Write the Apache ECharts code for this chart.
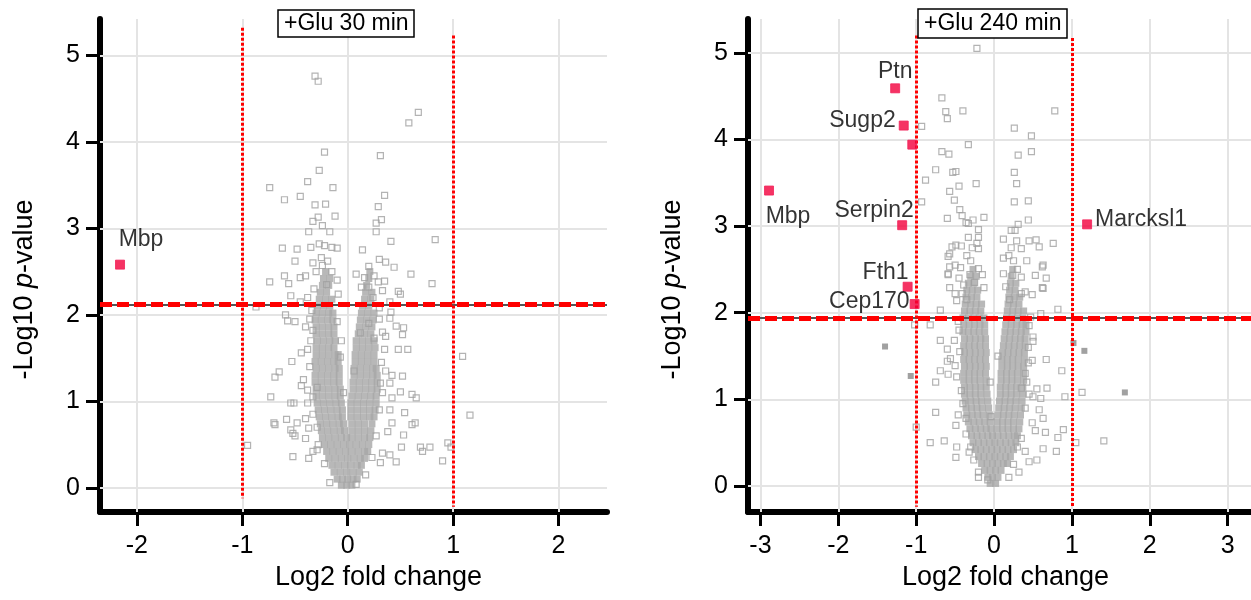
<!DOCTYPE html>
<html>
<head>
<meta charset="utf-8">
<script src="https://cdn.jsdelivr.net/npm/echarts@6/dist/echarts.min.js"></script>
<style>html,body{margin:0;background:#fff}#chart{width:1251px;height:600px}</style>
</head>
<body>
<div id="chart"></div>
<script>
var chart = echarts.init(document.getElementById('chart'));
var FONT = '"Liberation Sans", Arial, sans-serif';

// tick labels
var ticksX30 = [-2, -1, 0, 1, 2];
var ticksX240 = [-3, -2, -1, 0, 1, 2, 3];
var ticksY = [0, 1, 2, 3, 4, 5];

// thresholds
var pThr30 = 2.12;
var pThr240 = 1.94;
var fcThr = 1;

// +Glu 30 min: scattered proteins (hollow squares)
var glu30Open = [
  [-0.31,4.76],[-0.28,4.70],[0.67,4.34],[0.58,4.22],[-0.22,3.88],[0.31,3.84],[-0.27,3.67],[-0.38,3.54],
  [-0.14,3.47],[-0.74,3.47],[0.35,3.38],[-0.45,3.37],[-0.60,3.33],[-0.31,3.27],[-0.21,3.28],[0.29,3.25],
  [-0.12,3.14],[-0.28,3.13],[0.32,3.10],[-0.33,3.08],[0.27,3.06],[-0.24,3.03],[-0.37,2.96],[-0.17,2.96],
  [0.27,2.96],[0.41,2.85],[0.83,2.87],[-0.62,2.77],[-0.48,2.76],[-0.35,2.78],[-0.27,2.82],[-0.22,2.80],
  [-0.15,2.78],[-0.10,2.77],[0.14,2.75],[-0.50,2.62],[-0.33,2.60],[-0.25,2.66],[-0.19,2.62],[-0.24,2.57],
  [0.30,2.64],[0.36,2.61],[0.20,2.56],[0.44,2.55],[0.60,2.47],[-0.60,2.45],[-0.56,2.36],[-0.74,2.38],
  [-0.45,2.43],[-0.40,2.45],[0.08,2.47],[0.16,2.43],[0.29,2.38],[0.35,2.39],[0.80,2.36],[0.13,2.32],
  [0.20,2.32],[-0.54,2.22],[-0.09,2.24],[0.48,2.27],[0.50,2.24],[-0.87,2.09],[-0.32,2.30],[-0.20,2.35],
  [-0.15,2.50],[-0.30,2.50],[0.25,2.45],[0.33,2.28],[0.24,2.20],[-0.38,2.20],[-0.10,2.40],[0.40,2.15],
  [-0.45,2.15],
  [-0.59,2.00],[-0.57,1.93],[-0.50,1.92],[-0.40,1.86],[-0.33,1.82],[-0.10,1.92],[0.41,2.03],[0.40,1.96],
  [0.46,1.87],[0.53,1.85],[0.52,1.77],[0.33,1.80],[0.36,1.75],[0.25,1.73],[0.12,1.79],[0.48,1.60],
  [0.57,1.60],[0.35,1.60],[1.09,1.52],[-0.07,1.51],[-0.53,1.46],[-0.44,1.56],[-0.65,1.34],[-0.69,1.28],
  [0.52,1.29],[0.42,1.30],[0.31,1.21],[0.40,1.21],[-0.44,1.18],[-0.38,1.13],[-0.29,1.16],[-0.33,1.05],
  [-0.73,1.05],[-0.54,0.98],[-0.51,0.98],[-0.38,0.98],[0.61,1.08],[0.65,1.04],[0.50,1.11],[0.42,1.04],
  [0.40,0.90],[0.54,0.87],[1.16,0.84],[-0.70,0.75],[-0.69,0.73],[-0.58,0.79],[-0.48,0.75],[-0.37,0.69],
  [-0.29,0.70],[-0.52,0.63],[-0.54,0.67],[-0.50,0.60],[-0.40,0.57],[0.61,0.73],[0.64,0.75],[0.42,0.75],
  [0.53,0.61],[0.38,0.65],[-0.95,0.49],[0.69,0.47],[0.78,0.47],[0.71,0.42],[0.51,0.47],[0.95,0.52],
  [0.98,0.47],[0.90,0.31],[-0.52,0.36],[-0.37,0.34],[-0.33,0.42],[-0.29,0.44],[0.33,0.40],[0.40,0.38],
  [0.46,0.30],[0.31,0.29],[-0.17,0.06],[0.08,0.04],[-0.36,1.40],[-0.38,1.60],[-0.35,1.70],[0.32,1.45],
  [0.33,1.10],[0.30,0.90],[-0.33,0.85],[0.27,0.60],[-0.28,0.50],[0.23,0.35],[-0.22,0.28],[0.17,0.15],
  [-0.42,1.25],[0.36,1.35],[-0.40,0.80],[0.30,1.95],[-0.36,1.95],[-0.34,2.05],[0.30,2.08],[0.20,1.90],
  [-0.06,1.70],[0.06,1.35],[-0.04,1.10]
];

// +Glu 30 min: dense core of the volcano
var glu30Dense = [
  [-0.06,0.03],[-0.01,0.03],[0.04,0.03],
  [-0.10,0.10],[-0.05,0.10],[0.00,0.10],[0.05,0.10],[0.09,0.10],
  [-0.13,0.18],[-0.07,0.18],[-0.01,0.18],[0.05,0.18],[0.11,0.18],
  [-0.15,0.26],[-0.09,0.26],[-0.03,0.26],[0.03,0.26],[0.09,0.26],[0.13,0.26],
  [-0.18,0.34],[-0.12,0.34],[-0.06,0.34],[0.00,0.34],[0.06,0.34],[0.12,0.34],[0.16,0.34],
  [-0.20,0.42],[-0.14,0.42],[-0.08,0.42],[-0.02,0.42],[0.04,0.42],[0.10,0.42],[0.16,0.42],[0.19,0.42],
  [-0.22,0.50],[-0.16,0.50],[-0.10,0.50],[-0.04,0.50],[0.02,0.50],[0.08,0.50],[0.14,0.50],[0.20,0.50],
  [-0.24,0.58],[-0.18,0.58],[-0.12,0.58],[-0.06,0.58],[-0.01,0.58],[0.04,0.58],[0.10,0.58],[0.16,0.58],[0.21,0.58],
  [-0.25,0.66],[-0.19,0.66],[-0.13,0.66],[-0.07,0.66],[-0.03,0.66],[0.04,0.66],[0.10,0.66],[0.16,0.66],[0.22,0.66],
  [-0.26,0.74],[-0.20,0.74],[-0.14,0.74],[-0.08,0.74],[-0.04,0.74],[0.04,0.74],[0.10,0.74],[0.16,0.74],[0.23,0.74],
  [-0.27,0.82],[-0.21,0.82],[-0.15,0.82],[-0.09,0.82],[-0.05,0.82],[0.03,0.82],[0.09,0.82],[0.15,0.82],[0.21,0.82],[0.25,0.82],
  [-0.28,0.90],[-0.22,0.90],[-0.16,0.90],[-0.10,0.90],[-0.05,0.90],[0.03,0.90],[0.09,0.90],[0.15,0.90],[0.21,0.90],[0.26,0.90],
  [-0.29,0.98],[-0.23,0.98],[-0.17,0.98],[-0.11,0.98],[-0.06,0.98],[0.03,0.98],[0.09,0.98],[0.15,0.98],[0.21,0.98],[0.27,0.98],
  [-0.30,1.06],[-0.24,1.06],[-0.18,1.06],[-0.12,1.06],[-0.07,1.06],[0.04,1.06],[0.10,1.06],[0.16,1.06],[0.22,1.06],[0.27,1.06],
  [-0.30,1.14],[-0.24,1.14],[-0.18,1.14],[-0.12,1.14],[-0.07,1.14],[0.05,1.14],[0.11,1.14],[0.17,1.14],[0.23,1.14],[0.28,1.14],
  [-0.31,1.22],[-0.25,1.22],[-0.19,1.22],[-0.13,1.22],[-0.08,1.22],[0.05,1.22],[0.11,1.22],[0.17,1.22],[0.23,1.22],[0.28,1.22],
  [-0.31,1.30],[-0.25,1.30],[-0.19,1.30],[-0.13,1.30],[-0.08,1.30],[0.06,1.30],[0.12,1.30],[0.18,1.30],[0.24,1.30],[0.28,1.30],
  [-0.30,1.38],[-0.24,1.38],[-0.18,1.38],[-0.12,1.38],[-0.08,1.38],[0.06,1.38],[0.12,1.38],[0.18,1.38],[0.24,1.38],[0.27,1.38],
  [-0.31,1.46],[-0.25,1.46],[-0.19,1.46],[-0.13,1.46],[-0.09,1.46],[0.07,1.46],[0.13,1.46],[0.19,1.46],[0.25,1.46],
  [-0.30,1.54],[-0.24,1.54],[-0.18,1.54],[-0.12,1.54],[-0.09,1.54],[0.07,1.54],[0.13,1.54],[0.19,1.54],[0.25,1.54],
  [-0.30,1.62],[-0.24,1.62],[-0.18,1.62],[-0.13,1.62],[0.08,1.62],[0.14,1.62],[0.20,1.62],[0.26,1.62],
  [-0.29,1.70],[-0.23,1.70],[-0.17,1.70],[-0.12,1.70],[0.08,1.70],[0.14,1.70],[0.20,1.70],[0.25,1.70],
  [-0.30,1.78],[-0.24,1.78],[-0.18,1.78],[-0.13,1.78],[0.10,1.78],[0.16,1.78],[0.22,1.78],
  [-0.30,1.86],[-0.24,1.86],[-0.18,1.86],[-0.13,1.86],[0.11,1.86],[0.17,1.86],[0.23,1.86],
  [-0.31,1.94],[-0.25,1.94],[-0.19,1.94],[-0.14,1.94],[0.12,1.94],[0.18,1.94],[0.24,1.94],
  [-0.30,2.02],[-0.24,2.02],[-0.18,2.02],[-0.14,2.02],[0.13,2.02],[0.19,2.02],[0.25,2.02],
  [-0.29,2.10],[-0.23,2.10],[-0.17,2.10],[0.14,2.10],[0.20,2.10],
  [-0.27,2.18],[-0.21,2.18],[-0.15,2.18],[0.16,2.18],[0.22,2.18],
  [-0.26,2.26],[-0.20,2.26],[0.17,2.26],[0.23,2.26],
  [-0.24,2.34],[-0.18,2.34],[0.18,2.34],
  [-0.23,2.42],[-0.17,2.42],[0.20,2.42],
  [-0.21,2.50],[0.21,2.50]
];

// +Glu 240 min: scattered proteins (hollow squares)
var glu240Open = [
  [-0.22,5.05],[-0.67,4.48],[-0.62,4.32],[-0.60,4.24],[-0.40,4.33],[0.78,4.33],[-0.93,4.15],[0.26,4.13],
  [0.48,4.04],[-0.33,3.94],[-0.67,3.86],[-0.58,3.83],[0.31,3.82],[0.48,3.86],[-0.75,3.65],[-0.53,3.62],
  [-0.49,3.63],[0.26,3.62],[-0.88,3.53],[-0.23,3.49],[-0.45,3.46],[-0.57,3.40],[0.29,3.49],[-0.93,3.28],
  [-0.51,3.30],[0.26,3.28],[0.44,3.29],[-0.44,3.19],[-0.41,3.12],[-0.36,3.04],[-0.60,3.09],[-0.13,3.10],
  [-0.27,3.07],[-0.20,2.96],[-0.33,3.03],[0.44,3.07],[0.31,3.02],[0.22,2.95],[0.27,2.95],[-0.33,2.87],
  [-0.20,2.87],[-0.49,2.78],[-0.54,2.76],[-0.42,2.77],[-0.20,2.74],[-0.22,2.80],[0.12,2.85],[0.29,2.83],
  [0.45,2.83],[0.54,2.84],[0.58,2.76],[0.22,2.75],[0.35,2.74],[0.19,2.66],[-0.59,2.65],[-0.35,2.66],
  [0.12,2.63],[-0.57,2.53],[-0.43,2.52],[-0.20,2.51],[-0.31,2.44],[-0.59,2.44],[-0.15,2.44],[0.62,2.53],
  [0.53,2.43],[0.67,2.40],[0.12,2.45],[0.24,2.43],[0.35,2.41],[-0.39,2.32],[-0.13,2.29],[-0.41,2.22],
  [0.35,2.22],[0.49,2.21],[0.62,2.29],[-0.69,2.03],[0.82,2.04],[0.76,2.80],[0.63,2.55],[0.63,2.28],
  [0.40,2.24],[0.60,1.99],[-0.57,2.68],[-0.50,2.55],[-0.59,2.45],[-0.57,2.29],[-0.50,2.22],[-0.48,2.14],
  [-0.30,2.60],[-0.25,2.35],[-0.35,2.15],[0.15,2.30],[0.25,2.60],[0.30,2.50],[0.20,2.15],[0.42,2.60],
  [-0.45,2.40],[-0.28,2.75],
  [-1.02,1.86],[-0.82,1.86],[-0.69,1.68],[-0.60,1.58],[-0.51,1.68],[-0.56,1.47],[-0.60,1.44],[-0.50,1.39],
  [-0.69,1.33],[-0.59,1.29],[-0.75,1.20],[-0.48,1.26],[0.50,1.72],[0.50,1.67],[0.67,1.46],[0.49,1.45],
  [0.87,1.33],[0.91,1.03],[1.13,1.08],[0.68,1.13],[0.55,1.12],[0.60,1.01],[0.50,1.03],[0.44,1.42],
  [0.40,1.30],[0.35,1.13],[0.45,1.06],[-0.75,0.85],[-0.46,0.82],[-0.49,0.70],[-0.36,0.78],[-1.00,0.68],
  [0.58,0.88],[0.63,0.78],[0.49,0.73],[0.66,0.62],[0.53,0.64],[0.89,0.65],[0.82,0.56],[1.05,0.50],
  [1.41,0.52],[0.80,0.40],[0.63,0.43],[-0.82,0.50],[-0.64,0.52],[-0.48,0.45],[-0.49,0.33],[-0.32,0.39],
  [-0.26,0.30],[0.40,0.40],[0.45,0.28],[0.55,0.30],[0.32,0.16],[0.19,0.10],[-0.20,0.16],[-0.20,0.10],
  [-0.08,0.07],[-0.45,1.80],[-0.44,1.55],[0.45,1.85],[0.44,1.60],[-0.42,1.10],[0.42,1.20],[-0.40,0.95],
  [0.40,0.90],[-0.36,0.60],[0.35,0.55],[-0.30,0.45],[0.30,0.45],[0.25,0.25],[-0.46,1.90],[0.47,1.95],
  [-0.05,1.20],[0.05,1.50],[-0.04,0.80]
];

// +Glu 240 min: dense core of the volcano
var glu240Dense = [
  [-0.05,0.03],[0.02,0.03],
  [-0.08,0.10],[-0.02,0.10],[0.05,0.10],
  [-0.12,0.18],[-0.05,0.18],[0.02,0.18],[0.09,0.18],
  [-0.16,0.26],[-0.09,0.26],[-0.02,0.26],[0.05,0.26],[0.12,0.26],[0.17,0.26],
  [-0.20,0.34],[-0.13,0.34],[-0.06,0.34],[0.01,0.34],[0.08,0.34],[0.15,0.34],[0.21,0.34],
  [-0.24,0.42],[-0.17,0.42],[-0.10,0.42],[-0.03,0.42],[0.04,0.42],[0.11,0.42],[0.18,0.42],[0.25,0.42],
  [-0.27,0.50],[-0.20,0.50],[-0.13,0.50],[-0.06,0.50],[0.01,0.50],[0.08,0.50],[0.15,0.50],[0.22,0.50],[0.28,0.50],
  [-0.29,0.58],[-0.22,0.58],[-0.15,0.58],[-0.08,0.58],[-0.02,0.58],[0.05,0.58],[0.12,0.58],[0.19,0.58],[0.26,0.58],[0.30,0.58],
  [-0.31,0.66],[-0.24,0.66],[-0.17,0.66],[-0.10,0.66],[-0.04,0.66],[0.04,0.66],[0.11,0.66],[0.18,0.66],[0.25,0.66],[0.32,0.66],
  [-0.33,0.74],[-0.26,0.74],[-0.19,0.74],[-0.12,0.74],[-0.05,0.74],[0.04,0.74],[0.11,0.74],[0.18,0.74],[0.25,0.74],[0.33,0.74],
  [-0.35,0.82],[-0.28,0.82],[-0.21,0.82],[-0.14,0.82],[-0.06,0.82],[0.05,0.82],[0.12,0.82],[0.19,0.82],[0.26,0.82],[0.34,0.82],
  [-0.36,0.90],[-0.29,0.90],[-0.22,0.90],[-0.15,0.90],[-0.07,0.90],[0.06,0.90],[0.13,0.90],[0.20,0.90],[0.27,0.90],[0.35,0.90],
  [-0.37,0.98],[-0.30,0.98],[-0.23,0.98],[-0.16,0.98],[-0.08,0.98],[0.07,0.98],[0.14,0.98],[0.21,0.98],[0.28,0.98],[0.36,0.98],
  [-0.38,1.06],[-0.31,1.06],[-0.24,1.06],[-0.17,1.06],[-0.09,1.06],[0.08,1.06],[0.15,1.06],[0.22,1.06],[0.29,1.06],[0.37,1.06],
  [-0.38,1.14],[-0.31,1.14],[-0.24,1.14],[-0.17,1.14],[-0.10,1.14],[0.08,1.14],[0.15,1.14],[0.22,1.14],[0.29,1.14],[0.37,1.14],
  [-0.39,1.22],[-0.32,1.22],[-0.25,1.22],[-0.18,1.22],[-0.10,1.22],[0.09,1.22],[0.16,1.22],[0.23,1.22],[0.30,1.22],[0.38,1.22],
  [-0.39,1.30],[-0.32,1.30],[-0.25,1.30],[-0.18,1.30],[-0.11,1.30],[0.09,1.30],[0.16,1.30],[0.23,1.30],[0.30,1.30],[0.38,1.30],
  [-0.38,1.38],[-0.31,1.38],[-0.24,1.38],[-0.17,1.38],[-0.10,1.38],[0.10,1.38],[0.17,1.38],[0.24,1.38],[0.31,1.38],[0.38,1.38],
  [-0.39,1.46],[-0.32,1.46],[-0.25,1.46],[-0.18,1.46],[-0.11,1.46],[0.10,1.46],[0.17,1.46],[0.24,1.46],[0.31,1.46],[0.39,1.46],
  [-0.38,1.54],[-0.31,1.54],[-0.24,1.54],[-0.17,1.54],[-0.10,1.54],[0.11,1.54],[0.18,1.54],[0.25,1.54],[0.32,1.54],[0.39,1.54],
  [-0.39,1.62],[-0.32,1.62],[-0.25,1.62],[-0.18,1.62],[-0.11,1.62],[0.12,1.62],[0.19,1.62],[0.26,1.62],[0.33,1.62],[0.40,1.62],
  [-0.38,1.70],[-0.31,1.70],[-0.24,1.70],[-0.17,1.70],[-0.11,1.70],[0.13,1.70],[0.20,1.70],[0.27,1.70],[0.34,1.70],[0.40,1.70],
  [-0.40,1.78],[-0.33,1.78],[-0.26,1.78],[-0.19,1.78],[-0.12,1.78],[0.14,1.78],[0.21,1.78],[0.28,1.78],[0.35,1.78],[0.41,1.78],
  [-0.39,1.86],[-0.32,1.86],[-0.25,1.86],[-0.18,1.86],[-0.12,1.86],[0.15,1.86],[0.22,1.86],[0.29,1.86],[0.36,1.86],[0.41,1.86],
  [-0.40,1.94],[-0.33,1.94],[-0.26,1.94],[-0.19,1.94],[-0.13,1.94],[0.16,1.94],[0.23,1.94],[0.30,1.94],[0.37,1.94],
  [-0.38,2.02],[-0.31,2.02],[-0.24,2.02],[-0.17,2.02],[0.17,2.02],[0.24,2.02],[0.31,2.02],[0.38,2.02],
  [-0.37,2.10],[-0.30,2.10],[-0.23,2.10],[-0.16,2.10],[0.18,2.10],[0.25,2.10],[0.32,2.10],
  [-0.36,2.18],[-0.29,2.18],[-0.22,2.18],[0.19,2.18],[0.26,2.18],[0.33,2.18],
  [-0.35,2.26],[-0.28,2.26],[-0.21,2.26],[0.20,2.26],[0.27,2.26],
  [-0.33,2.34],[-0.26,2.34],[0.21,2.34],[0.28,2.34],
  [-0.30,2.42],[-0.23,2.42],[0.22,2.42],
  [-0.27,2.50],[0.24,2.50]
];

// +Glu 240 min: darker filled points
var glu240Dark = [[-1.40,1.61],[-1.07,1.27],[1.02,1.65],[1.16,1.56],[1.68,1.08]];

// significant proteins
var glu30Hits = [
  {name: 'Mbp', value: [-2.16, 2.58]}
];
var glu240Hits = [
  {name: 'Ptn', value: [-1.27, 4.59]},
  {name: 'Sugp2', value: [-1.16, 4.16]},
  {name: '', value: [-1.05, 3.94]},
  {name: 'Mbp', value: [-2.89, 3.41]},
  {name: 'Serpin2', value: [-1.18, 3.01]},
  {name: 'Marcksl1', value: [1.195, 3.02]},
  {name: 'Fth1', value: [-1.11, 2.30]},
  {name: 'Cep170', value: [-1.02, 2.10]}
];

// where each gene label sits next to its point
var labelPlace = {
  '30:Mbp': {position: 'top', offset: [21, -3]},
  '240:Ptn': {position: 'top', offset: [0, 5]},
  '240:Sugp2': {position: 'left', offset: [2, -5]},
  '240:Mbp': {position: 'bottom', offset: [19, 5]},
  '240:Serpin2': {position: 'top', offset: [-28, 7]},
  '240:Marcksl1': {position: 'right', offset: [-2, -5]},
  '240:Fth1': {position: 'top', offset: [-22, 7]},
  '240:Cep170': {position: 'left', offset: [5, -2]}
};

function xAxisFor(gi, min, max, ticks, namePad) {
  return {
    gridIndex: gi, type: 'value', min: min, max: max,
    axisLine: {show: true, onZero: false, lineStyle: {color: '#000', width: 6}},
    axisTick: {show: true, length: 14, customValues: ticks, lineStyle: {color: '#000', width: 3}},
    axisLabel: {customValues: ticks, fontSize: 25, color: '#000', margin: 22, fontFamily: FONT},
    splitLine: {show: false},
    name: 'Log2 fold change', nameLocation: 'middle', nameGap: 52,
    nameTextStyle: {fontSize: 27, color: '#000', fontFamily: FONT, padding: [0, 0, 0, namePad]}
  };
}

function yAxisFor(gi, min, max) {
  return {
    gridIndex: gi, type: 'value', min: min, max: max,
    axisLine: {show: true, onZero: false, lineStyle: {color: '#000', width: 6}},
    axisTick: {show: true, length: 14, customValues: ticksY, lineStyle: {color: '#000', width: 3}},
    axisLabel: {customValues: ticksY, fontSize: 25, color: '#000', margin: 20, fontFamily: FONT},
    splitLine: {show: false},
    name: '-Log10 {i|p}-value', nameLocation: 'middle', nameGap: 62,
    nameTextStyle: {
      fontSize: 27, color: '#000', fontFamily: FONT, padding: [0, 48, 0, 0],
      rich: {i: {fontSize: 27, fontStyle: 'italic', fontFamily: FONT, color: '#000'}}
    }
  };
}

function panelSeries(gi, tag, xTicks, openPts, densePts, darkPts, hits, pThr, vLines) {
  var grid = xTicks.map(function (v) { return {xAxis: v}; })
    .concat(ticksY.map(function (v) { return {yAxis: v}; }));
  var list = [];
  list.push({
    type: 'scatter', xAxisIndex: gi, yAxisIndex: gi, data: [], silent: true, z: 1,
    markLine: {
      silent: true, z: 1, symbol: ['none', 'none'], label: {show: false}, animation: false,
      lineStyle: {color: '#e4e4e4', width: 2, type: 'solid'},
      data: grid
    }
  });
  list.push({
    type: 'scatter', xAxisIndex: gi, yAxisIndex: gi, data: densePts, symbol: 'rect', symbolSize: 7,
    itemStyle: {color: '#a6a6a6'}, z: 2, silent: true
  });
  list.push({
    type: 'scatter', xAxisIndex: gi, yAxisIndex: gi, data: openPts, symbol: 'rect', symbolSize: 6,
    itemStyle: {color: 'rgba(255,255,255,0)', borderColor: '#a0a0a0', borderWidth: 1.2}, z: 2, silent: true
  });
  if (darkPts.length) {
    list.push({
      type: 'scatter', xAxisIndex: gi, yAxisIndex: gi, data: darkPts, symbol: 'rect', symbolSize: 6,
      itemStyle: {color: '#8a8a8a'}, z: 2, silent: true
    });
  }
  var lines = [
    {yAxis: pThr, lineStyle: {color: '#555', width: 2, type: 'solid'}},
    {yAxis: pThr, lineStyle: {color: '#ff0000', width: 5, type: [12, 5]}}
  ];
  vLines.forEach(function (l) {
    lines.push([
      {coord: [l[0], l[1]], lineStyle: {color: '#ff0000', width: 3, type: [3, 2]}},
      {coord: [l[0], l[2]]}
    ]);
  });
  list.push({
    type: 'scatter', xAxisIndex: gi, yAxisIndex: gi, data: [], silent: true, z: 3,
    markLine: {silent: true, z: 3, symbol: ['none', 'none'], label: {show: false}, animation: false, data: lines}
  });
  list.push({
    type: 'scatter', xAxisIndex: gi, yAxisIndex: gi, symbol: 'rect', symbolSize: 9, z: 4, silent: true,
    itemStyle: {color: '#f2003c', borderColor: '#f2205a', borderWidth: 1},
    data: hits.map(function (h) {
      var p = labelPlace[tag + ':' + h.name] || {position: 'top', offset: [0, 0]};
      return {
        name: h.name, value: h.value,
        label: {
          show: h.name !== '', formatter: '{b}', position: p.position, offset: p.offset,
          fontSize: 23, color: '#000', fontFamily: FONT
        }
      };
    })
  });
  return list;
}

var titleStyle = {fontSize: 23, fontWeight: 'normal', color: '#000', fontFamily: FONT};

var option = {
  animation: false,
  backgroundColor: '#fff',
  title: [
    {text: '+Glu 30 min', left: 278, top: 10, borderColor: '#000', borderWidth: 1.5,
     backgroundColor: '#fff', padding: [2, 6], textStyle: titleStyle},
    {text: '+Glu 240 min', left: 918, top: 9, borderColor: '#000', borderWidth: 1.5,
     backgroundColor: '#fff', padding: [3, 6], textStyle: titleStyle}
  ],
  grid: [
    {left: 100, top: 19, width: 507, height: 493},
    {left: 748, top: 19, width: 503, height: 493}
  ],
  xAxis: [
    xAxisFor(0, -2.35, 2.46, ticksX30, 50),
    xAxisFor(1, -3.16, 3.30, ticksX240, 12)
  ],
  yAxis: [
    yAxisFor(0, -0.28, 5.42),
    yAxisFor(1, -0.30, 5.39)
  ],
  series: panelSeries(0, '30', ticksX30, glu30Open, glu30Dense, [], glu30Hits, pThr30,
      [[-fcThr, 5.32, -0.12], [fcThr, 5.23, -0.22]])
    .concat(panelSeries(1, '240', ticksX240, glu240Open, glu240Dense, glu240Dark, glu240Hits, pThr240,
      [[-fcThr, 5.2, -0.24], [fcThr, 5.17, -0.24]]))
};

chart.setOption(option);

window.addEventListener('resize', function () {
  chart.resize();
});
</script>
</body>
</html>
